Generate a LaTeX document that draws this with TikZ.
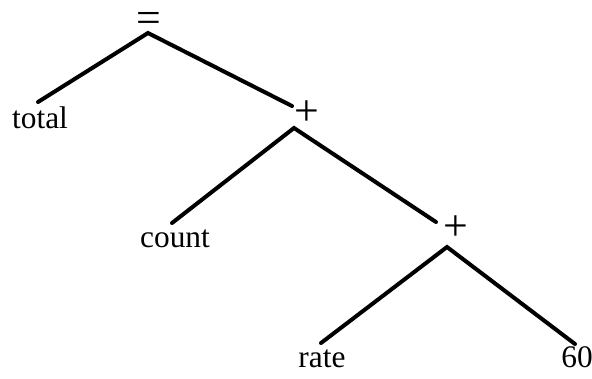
\documentclass[tikz,border=0pt]{standalone}
\usepackage{fontspec}
\setmainfont{Liberation Serif}
\begin{document}
\begin{tikzpicture}[x=1bp,y=-1bp,
  lbl/.style={anchor=base,inner sep=0pt,font=\fontsize{31.5}{36}\selectfont},
  op/.style={anchor=base,inner sep=0pt,font=\fontsize{44}{48}\selectfont},
  edge/.style={line width=4bp,line cap=round}]
\useasboundingbox (0,0) rectangle (592,378);
\node[op] (eq) at (148.5,32) {=};
\node[lbl] (total) at (40,128) {total};
\node[op] (plusA) at (306.5,125.5) {+};
\node[lbl] (count) at (175,247) {count};
\node[op] (plusB) at (455.5,240) {+};
\node[lbl] (rate) at (322,367) {rate};
\node[lbl] (sixty) at (577,367) {60};
\coordinate (eqS) at (148,33);
\coordinate (totalN) at (38,102);
\coordinate (plusAW) at (292,106);
\coordinate (plusAS) at (294,128);
\coordinate (countN) at (172,223);
\coordinate (plusBW) at (436,222);
\coordinate (plusBS) at (447,247);
\coordinate (rateN) at (321,343);
\coordinate (sixtyN) at (575,344);
\draw[edge] (totalN) -- (eqS) -- (plusAW);
\draw[edge] (countN) -- (plusAS) -- (plusBW);
\draw[edge] (rateN) -- (plusBS) -- (sixtyN);
\end{tikzpicture}
\end{document}
